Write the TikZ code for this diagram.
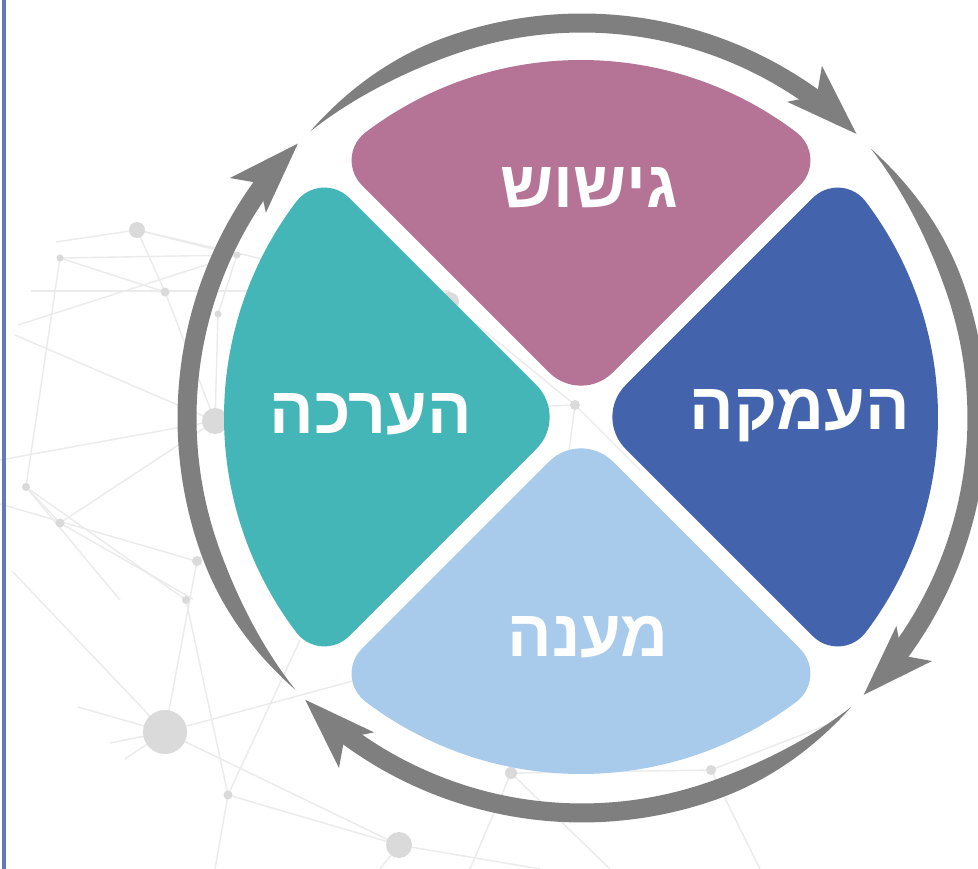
\documentclass[tikz,border=0pt]{standalone}
\usepackage{fontspec}
\newfontfamily\hebfont[Script=Hebrew]{Liberation Sans}
\TeXXeTstate=1
\usetikzlibrary{calc}
\definecolor{pinkc}{RGB}{181,115,150}
\definecolor{bluec}{RGB}{67,99,172}
\definecolor{lightc}{RGB}{168,202,235}
\definecolor{tealc}{RGB}{68,182,183}
\definecolor{arrowc}{RGB}{127,127,127}
\definecolor{barc}{RGB}{95,120,190}
\definecolor{netl}{RGB}{235,235,235}
\definecolor{netd}{RGB}{218,218,218}
\tikzset{
  netline/.style={draw=netl, line width=1.4pt},
  netdot/.style={fill=netd},
  lbl/.style={text=white, font=\hebfont\bfseries\fontsize{66}{68}\selectfont, inner sep=0pt}
}
\begin{document}
\begin{tikzpicture}[x=1pt,y=-1pt]
\useasboundingbox (0,0) rectangle (978,869);
\fill[white] (0,0) rectangle (978,869);
% background network
\foreach \xa/\ya/\xb/\yb in {
 56/242/137/230, 137/230/237/255, 137/230/165/292, 165/292/215/421,
 31/291/450/291, 60/258/26/487, 60/258/165/292, 60/258/237/255,
 15/335/215/421, 0/460/215/421, 215/421/449/302, 215/421/575/405,
 0/504/196/561, 60/523/193/599, 12/571/165/732, 165/732/399/845,
 165/732/349/682, 349/682/536/632, 197/561/165/732, 26/487/186/600,
 186/600/228/795, 228/795/399/845, 78/707/165/732, 110/743/165/732,
 125/759/165/732, 399/845/540/869, 399/845/380/869, 511/773/711/770,
 511/773/470/869, 711/770/760/869, 711/770/840/720, 449/302/575/405,
 575/405/560/520, 575/405/640/470, 18/325/237/255, 60/523/26/487,
 26/487/120/600, 137/230/449/302, 228/795/215/869, 300/640/228/795,
 511/773/610/869, 237/255/218/314, 218/314/215/421, 60/523/215/421}
 {\draw[netline] (\xa,\ya) -- (\xb,\yb);}
\foreach \x/\y/\r in {137/230/8, 60/258/3.5, 165/292/4.5, 237/255/3.5, 218/314/3.5,
 449/302/10, 215/421/13, 575/405/5, 26/487/4, 60/523/4.5, 197/561/5, 186/600/4,
 165/732/22, 228/795/4.5, 399/845/13, 511/773/6, 711/770/5}
 {\fill[netdot] (\x,\y) circle[radius=\r];}
% left bar
\fill[barc] (2,0) rectangle (6,869);
% petals (rotation = minus the image angle of the petal axis)
\foreach \rot/\col in {90/pinkc, 0/bluec, -90/lightc, 180/tealc}{
  \begin{scope}[shift={(581,417)}, rotate=\rot]
  \fill[\col] (44.55,-31.82) arc[start angle=225, end angle=135, radius=45]
    -- (231.9,219.2) arc[start angle=135, end angle=37.15, radius=35]
    arc[start angle=37.15, end angle=-37.15, radius=357]
    arc[start angle=-37.15, end angle=-135, radius=35] -- cycle;
  \end{scope}
}
% cycle arrows
\foreach \tip in {314, 44.5, 134.5, 224}{
  \begin{scope}[shift={(582,418)}, rotate=-\tip]
  \fill[arrowc] plot[domain=0:82.5, samples=90, variable=\t] ({\t-87.5}:{395+9.5*sin(min(90,\t*90/24))})
     -- plot[domain=82.5:0, samples=90, variable=\t] ({\t-87.5}:{395-9.5*sin(min(90,\t*90/24))}) -- cycle;
  \fill[arrowc] (395,0) -- (420,-72) -- (395,-55) -- (370,-72) -- cycle;
  \end{scope}
}
% labels
\node[lbl] (t1) at (589,188) {\beginR גישוש\endR};
\node[lbl] (t2) at (800,416) {\beginR העמקה\endR};
\node[lbl] (t3) at (588,637) {\beginR מענה\endR};
\node[lbl] (t4) at (371,414) {\beginR הערכה\endR};
\end{tikzpicture}
\end{document}
